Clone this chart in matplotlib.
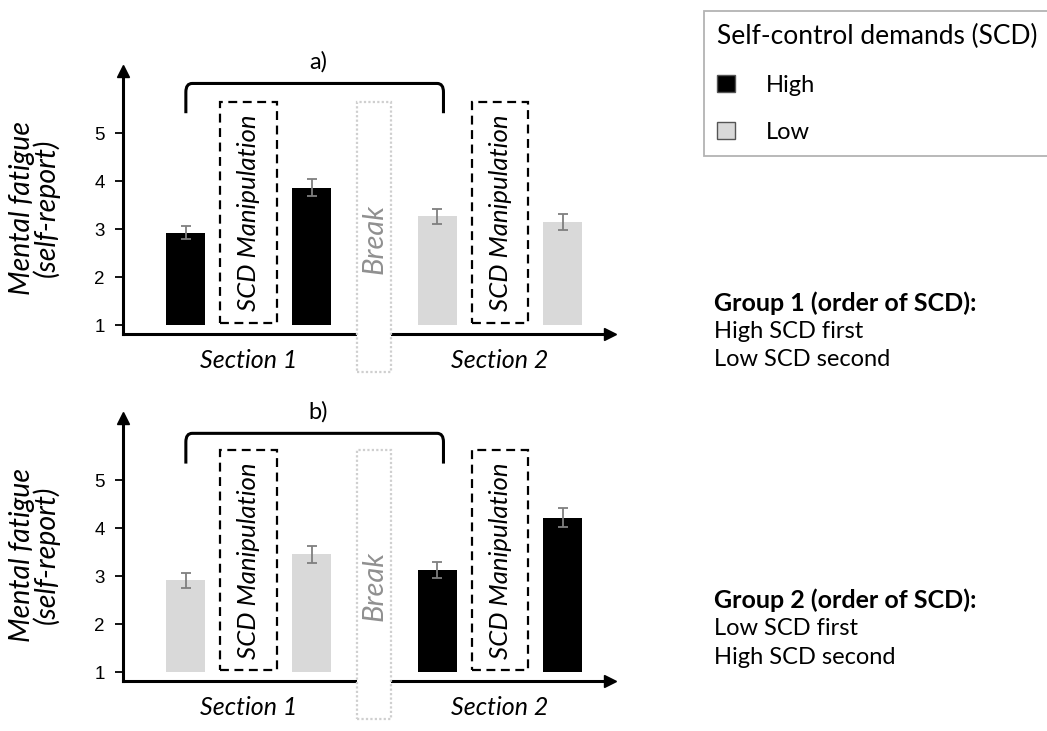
import matplotlib
matplotlib.use('Agg')
import matplotlib.pyplot as plt
from matplotlib.patches import Rectangle, Patch, PathPatch
from matplotlib.path import Path

plt.rcParams['font.family'] = ['Lato', 'DejaVu Sans']

# slot layout along x: bar, manipulation box, bar, break, bar, manipulation box, bar
bar_slots = [0, 2, 4, 6]
box_slots = [1, 5]
break_slot = 3

# group 1: high SCD first, low SCD second
g1_means = [2.93, 3.87, 3.27, 3.15]
g1_errs = [0.13, 0.17, 0.16, 0.17]
g1_levels = ['High', 'High', 'Low', 'Low']

# group 2: low SCD first, high SCD second
g2_means = [2.92, 3.46, 3.13, 4.22]
g2_errs = [0.16, 0.18, 0.165, 0.2]
g2_levels = ['Low', 'Low', 'High', 'High']

yticks = [1, 2, 3, 4, 5]
section_labels = ['Section 1', 'Section 2']
panel_labels = ['a)', 'b)']
group_heads = ['Group 1 (order of SCD):', 'Group 2 (order of SCD):']
group_lines = [['High SCD first', 'Low SCD second'],
               ['Low SCD first', 'High SCD second']]

colors = {'High': 'black', 'Low': '#d9d9d9'}

fig = plt.figure(figsize=(10.47, 7.31), dpi=100)
ax_top = fig.add_axes([0.1175, 0.5431, 0.4651, 0.3598])
ax_bot = fig.add_axes([0.1175, 0.0684, 0.4651, 0.3598])


def draw_panel(ax, means, errs, levels, label, box_top, bracket_top, bracket_bot):
    ax.set_xlim(-1, 6.75)
    ax.set_ylim(0.82, 6.3)
    for s in ['top', 'right']:
        ax.spines[s].set_visible(False)
    for s in ['left', 'bottom']:
        ax.spines[s].set_linewidth(2.2)
    ax.set_xticks([])
    ax.set_yticks(yticks)
    ax.tick_params(axis='y', length=6, width=1.3, labelsize=13.5, pad=7)
    for t in ax.get_yticklabels():
        t.set_family(['Liberation Sans', 'DejaVu Sans'])

    # arrow heads on the axes
    ax.plot(-1, 6.3, marker='^', color='black', markersize=9, clip_on=False)
    ax.plot(6.75, 0.82, marker='>', color='black', markersize=9, clip_on=False)

    ax.bar(bar_slots, [m - 1 for m in means], bottom=1, width=0.62,
           color=[colors[l] for l in levels], zorder=2)
    ax.errorbar(bar_slots, means, yerr=errs, fmt='none', ecolor='#7f7f7f',
                elinewidth=1.3, capsize=3.5, capthick=1.3, zorder=3)

    for s in box_slots:
        ax.add_patch(Rectangle((s - 0.45, 1.04), 0.9, box_top - 1.04, fill=False,
                               edgecolor='black', linewidth=1.6, linestyle=(0, (4, 2.5)),
                               zorder=2))
        ax.text(s, (1.04 + box_top) / 2, 'SCD Manipulation', rotation=90, style='italic',
                ha='center', va='center', fontsize=18.5)

    # break column runs below the x axis and covers it
    ax.add_patch(Rectangle((break_slot - 0.27, 0.02), 0.54, box_top - 0.02,
                           facecolor='white', edgecolor='#cfcfcf', linewidth=1.6,
                           linestyle=(0, (1, 1)), zorder=4, clip_on=False))
    ax.text(break_slot, 2.8, 'Break', rotation=90, style='italic', color='#909090',
            ha='center', va='center', fontsize=21, zorder=5)

    # bracket over section 1 and the start of section 2
    x0, x1 = 0, 4.1
    rx, ry = 0.1, 0.18
    verts = [(x0, bracket_bot), (x0, bracket_top - ry), (x0, bracket_top), (x0 + rx, bracket_top),
             (x1 - rx, bracket_top), (x1, bracket_top), (x1, bracket_top - ry), (x1, bracket_bot)]
    codes = [Path.MOVETO, Path.LINETO, Path.CURVE3, Path.CURVE3,
             Path.LINETO, Path.CURVE3, Path.CURVE3, Path.LINETO]
    ax.add_patch(PathPatch(Path(verts, codes), fill=False, edgecolor='black',
                           linewidth=2.2, clip_on=False, zorder=3))
    ax.text(2.1, bracket_top + 0.22, label, ha='center', va='bottom', fontsize=17)

    ax.text(1, 0.27, section_labels[0], style='italic', ha='center', va='center', fontsize=18)
    ax.text(5, 0.27, section_labels[1], style='italic', ha='center', va='center', fontsize=18)

    ax.set_ylabel('Mental fatigue\n(self-report)', style='italic', fontsize=20.5,
                  linespacing=0.9)
    ax.yaxis.set_label_coords(-0.129, 0.48)


draw_panel(ax_top, g1_means, g1_errs, g1_levels, panel_labels[0], 5.65, 6.04, 5.42)
draw_panel(ax_bot, g2_means, g2_errs, g2_levels, panel_labels[1], 5.63, 5.98, 5.35)

handles = [Patch(facecolor=colors['High'], edgecolor='#555555', label='High'),
           Patch(facecolor=colors['Low'], edgecolor='#555555', label='Low')]
leg = fig.legend(handles=handles, loc='upper left', bbox_to_anchor=(0.6725, 0.985),
                 borderaxespad=0, title='Self-control demands (SCD)', fontsize=17,
                 title_fontsize=19, frameon=True, fancybox=False, edgecolor='#a0a0a0',
                 borderpad=0.55, handlelength=0.75, handleheight=0.75, handletextpad=1.3,
                 labelspacing=1.1, alignment='left')
leg.get_frame().set_linewidth(1.3)

for head, lines, y0 in zip(group_heads, group_lines, [303, 600]):
    fig.text(0.682, 1 - y0 / 731, head, fontsize=18, fontweight='bold', va='center')
    for i, line in enumerate(lines):
        fig.text(0.682, 1 - (y0 + 28.5 * (i + 1)) / 731, line, fontsize=17, va='center')

fig.savefig('out.png', dpi=100)
